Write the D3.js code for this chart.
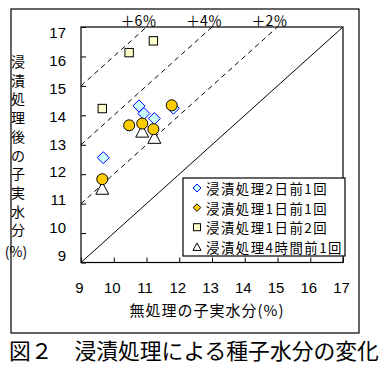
<!DOCTYPE html>
<html><head><meta charset="utf-8">
<script src="https://cdn.jsdelivr.net/npm/d3@7"></script>
<style>
body{margin:0;background:#fff;}
svg{display:block;font-family:"Noto Sans CJK JP","Noto Sans",sans-serif;}
</style></head>
<body><svg id="c" width="382" height="379"></svg>
<script>
// ---- data ----
const xTicks = [9,10,11,12,13,14,15,16,17];
const yTicks = [9,10,11,12,13,14,15,16,17];
const guideOffsets = [6,4,2];
const guideLabels = ["＋6％","＋4％","＋2％"];
const seriesNames = ["浸漬処理2日前1回","浸漬処理1日前1回","浸漬処理1日前2回","浸漬処理4時間前1回"];
// 浸漬処理2日前1回 (diamond)
const d2X = [10.77, 10.92, 11.24, 9.68, 11.82];
const d2Y = [14.32, 14.06, 13.89, 12.56, 14.24];
// 浸漬処理1日前1回 (circle)
const d1X = [10.47, 10.87, 11.21, 11.77, 9.65];
const d1Y = [13.66, 13.72, 13.53, 14.34, 11.83];
// 浸漬処理1日前2回 (square)
const d12X = [9.65, 10.47, 11.21];
const d12Y = [14.23, 16.13, 16.53];
// 浸漬処理4時間前1回 (triangle)
const h4X = [10.87, 11.24, 9.65];
const h4Y = [13.43, 13.22, 11.49];

const svg = d3.select("#c");
const L=81, R=343, T=27, B=262.5;
const x = d3.scaleLinear().domain([9,17]).range([L,R]);
const y = d3.scaleLinear().domain([9,17]).range([B,T]);
const yLab = d3.scaleLinear().domain([9,17]).range([255,32]);

// outer frame
svg.append("rect").attr("x",11).attr("y",9).attr("width",348).attr("height",324)
  .attr("fill","none").attr("stroke","#000").attr("stroke-width",1.2);

// plot border
svg.append("rect").attr("x",L).attr("y",T).attr("width",R-L).attr("height",B-T)
  .attr("fill","#fff").attr("stroke","#000").attr("stroke-width",1.2);

// guide lines
svg.append("line").attr("x1",x(9)).attr("y1",y(9)).attr("x2",x(17)).attr("y2",y(17))
  .attr("stroke","#000").attr("stroke-width",1);
guideOffsets.forEach((p,i)=>{
  svg.append("line").attr("x1",x(9)).attr("y1",y(9+p)).attr("x2",x(17-p)).attr("y2",y(17))
    .attr("stroke","#000").attr("stroke-width",1).attr("stroke-dasharray","5,4");
  svg.append("text").attr("x",x(17-p)-8).attr("y",20).attr("text-anchor","middle")
    .attr("dominant-baseline","central").attr("font-size",14).text(guideLabels[i]);
});

// axes
const gx = svg.append("g").attr("transform",`translate(0,${B})`)
  .call(d3.axisBottom(x).tickValues(xTicks).tickSizeInner(-5).tickSizeOuter(0).tickFormat(d3.format("d")));
gx.select(".domain").remove();
gx.selectAll("text").attr("y",25).attr("dy",0).attr("dx",-2).attr("dominant-baseline","central")
  .attr("font-size",15).attr("font-family",null);
gx.selectAll("line").attr("stroke","#000");

const gy = svg.append("g").attr("transform",`translate(${L},0)`)
  .call(d3.axisLeft(y).tickValues(yTicks).tickSizeInner(-5).tickSizeOuter(0).tickFormat(d3.format("d")));
gy.select(".domain").remove();
gy.selectAll("text").attr("x",66-L).attr("dy",0).attr("dominant-baseline","central")
  .attr("font-size",15).attr("font-family",null)
  .attr("transform",d=>`translate(0,${yLab(d)-y(d)})`);
gy.selectAll("line").attr("stroke","#000");

// markers
const diamond = s=>`M0,${-s}L${s},0L0,${s}L${-s},0Z`;
const tri = (w,h)=>`M0,${-h*0.58}L${w/2},${h*0.42}L${-w/2},${h*0.42}Z`;
const dat = (X,Y)=>X.map((v,i)=>[v,Y[i]]);

svg.append("g").selectAll("path").data(dat(d2X,d2Y)).join("path")
  .attr("transform",d=>`translate(${x(d[0])},${y(d[1])})`).attr("d",diamond(6))
  .attr("fill","#CCFFFF").attr("stroke","#0000FF").attr("stroke-width",1);
svg.append("g").selectAll("rect").data(dat(d12X,d12Y)).join("rect")
  .attr("x",d=>x(d[0])-4.2).attr("y",d=>y(d[1])-4.2).attr("width",8.4).attr("height",8.4)
  .attr("fill","#FFFFCC").attr("stroke","#000").attr("stroke-width",1);
svg.append("g").selectAll("path").data(dat(h4X,h4Y)).join("path")
  .attr("transform",d=>`translate(${x(d[0])},${y(d[1])})`).attr("d",tri(13,12))
  .attr("fill","#fff").attr("stroke","#000").attr("stroke-width",1);
svg.append("g").selectAll("circle").data(dat(d1X,d1Y)).join("circle")
  .attr("cx",d=>x(d[0])).attr("cy",d=>y(d[1])).attr("r",5.5)
  .attr("fill","#FFCC00").attr("stroke","#000").attr("stroke-width",1);

// legend
const lg = svg.append("g");
lg.append("rect").attr("x",183).attr("y",178).attr("width",162).attr("height",78)
  .attr("fill","#fff").attr("stroke","#000").attr("stroke-width",1.2);
const rowY = i=>188+i*19.6;
const sx = 197;
lg.append("path").attr("transform",`translate(${sx},${rowY(0)})`).attr("d",diamond(4))
  .attr("fill","#CCFFFF").attr("stroke","#0000FF");
lg.append("path").attr("transform",`translate(${sx},${rowY(1)})`).attr("d",diamond(3.8))
  .attr("fill","#FFCC00").attr("stroke","#000");
lg.append("rect").attr("x",sx-3.5).attr("y",rowY(2)-3.5).attr("width",7).attr("height",7)
  .attr("fill","#FFFFCC").attr("stroke","#000");
lg.append("path").attr("transform",`translate(${sx},${rowY(3)+0.5})`).attr("d",tri(8,7.5))
  .attr("fill","#fff").attr("stroke","#000");
seriesNames.forEach((n,i)=>{
  lg.append("text").attr("x",206).attr("y",rowY(i)).attr("dominant-baseline","central")
    .attr("font-size",13.4).attr("letter-spacing",1.5).text(n);
});

// axis titles
const yt = "浸漬処理後の子実水分".split("");
yt.forEach((ch,i)=>{
  svg.append("text").attr("x",18).attr("y",61+i*18.7).attr("text-anchor","middle")
    .attr("dominant-baseline","central").attr("font-size",14).text(ch);
});
svg.append("text").attr("x",16).attr("y",251).attr("text-anchor","middle")
  .attr("dominant-baseline","central").attr("font-size",14).text("(%)");

svg.append("text").attr("x",207).attr("y",309).attr("text-anchor","middle")
  .attr("dominant-baseline","central").attr("font-size",15).attr("letter-spacing",1)
  .text("無処理の子実水分(%)");

// caption
svg.append("text").attr("x",9).attr("y",349).attr("dominant-baseline","central")
  .attr("font-size",21.8).text("図２　浸漬処理による種子水分の変化");
</script></body></html>
